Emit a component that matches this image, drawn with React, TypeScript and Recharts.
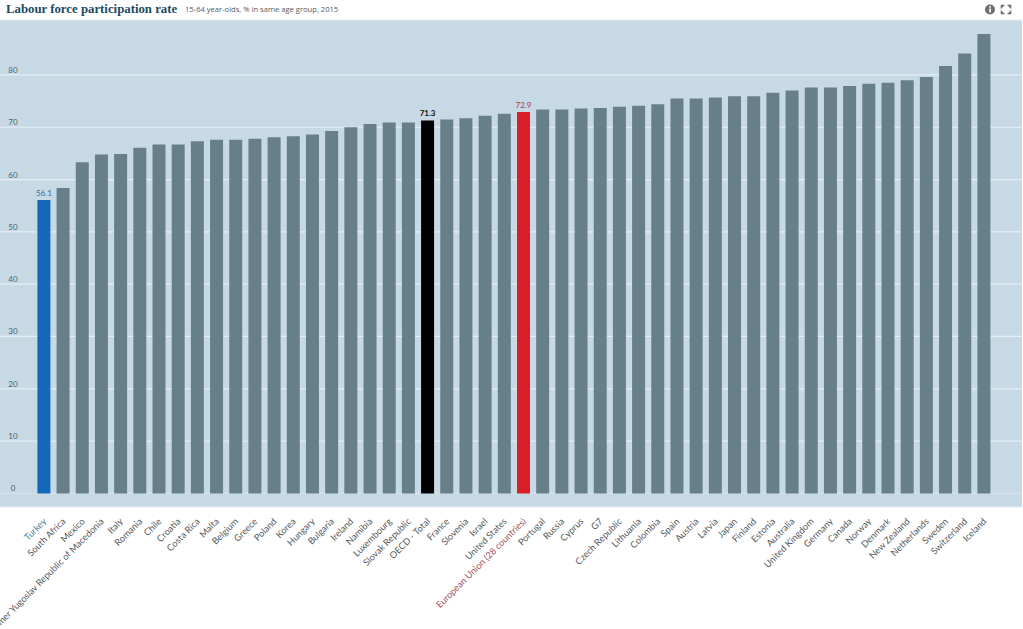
import { BarChart, Bar, XAxis, YAxis, CartesianGrid, Cell, LabelList } from 'recharts';

const countries = [
  'Turkey', 'South Africa', 'Mexico', 'The former Yugoslav Republic of Macedonia', 'Italy', 'Romania', 'Chile',
  'Croatia', 'Costa Rica', 'Malta', 'Belgium', 'Greece', 'Poland', 'Korea', 'Hungary', 'Bulgaria', 'Ireland',
  'Namibia', 'Luxembourg', 'Slovak Republic', 'OECD - Total', 'France', 'Slovenia', 'Israel', 'United States',
  'European Union (28 countries)', 'Portugal', 'Russia', 'Cyprus', 'G7', 'Czech Republic', 'Lithuania', 'Colombia',
  'Spain', 'Austria', 'Latvia', 'Japan', 'Finland', 'Estonia', 'Australia', 'United Kingdom', 'Germany', 'Canada',
  'Norway', 'Denmark', 'New Zealand', 'Netherlands', 'Sweden', 'Switzerland', 'Iceland',
];

const rates = [
  56.1, 58.4, 63.3, 64.8, 64.9, 66.1, 66.7, 66.7, 67.3, 67.6, 67.6, 67.8, 68.1, 68.3, 68.6, 69.3, 70.0,
  70.6, 70.9, 70.9, 71.3, 71.5, 71.7, 72.2, 72.6, 72.9, 73.4, 73.4, 73.6, 73.7, 73.9, 74.1, 74.4,
  75.5, 75.5, 75.7, 75.9, 75.9, 76.6, 77.0, 77.6, 77.6, 77.9, 78.3, 78.5, 79.0, 79.6, 81.7, 84.1, 87.8,
];

const yTicks = [0, 10, 20, 30, 40, 50, 60, 70, 80];

const highlights: Record<string, { bar: string; text: string; tick: string; weight?: string }> = {
  Turkey: { bar: '#1467ba', text: '#2f6f9f', tick: '#4a7fa6' },
  'OECD - Total': { bar: '#000000', text: '#111111', tick: '#55595c', weight: 'bold' },
  'European Union (28 countries)': { bar: '#d81e26', text: '#a83a4a', tick: '#a4505f' },
};

const data = countries.map((name, i) => ({ name, rate: rates[i] }));

const FONT = 'Lato, sans-serif';

function CountryTick({ x, y, payload }: any) {
  const hl = highlights[payload.value];
  return (
    <text
      x={x + 3}
      y={y + 7}
      transform={`rotate(-45 ${x + 3} ${y + 7})`}
      textAnchor="end"
      fontFamily={FONT}
      fontSize={9.2}
      fill={hl ? hl.tick : '#55595c'}
    >
      {payload.value}
    </text>
  );
}

function ValueTick({ y, payload }: any) {
  return (
    <text x={13} y={y - 2} textAnchor="middle" fontFamily={FONT} fontSize={8} fill="#4e5f68">
      {payload.value}
    </text>
  );
}

function HighlightLabel({ x, y, width, index }: any) {
  const hl = highlights[countries[index]];
  if (!hl) return null;
  return (
    <text
      x={x + width / 2}
      y={y - 4}
      textAnchor="middle"
      fontFamily={FONT}
      fontSize={8}
      fontWeight={hl.weight || 'normal'}
      fill={hl.text}
    >
      {rates[index].toFixed(1)}
    </text>
  );
}

// the zero line is much fainter than the others in the original
function GridLine({ x1, y1, x2, y2, index }: any) {
  return <line x1={x1} y1={y1} x2={x2} y2={y2} stroke={index === 0 ? '#d6e3ec' : '#e4eef3'} strokeWidth={1.2} />;
}

export default function App() {
  return (
    <div style={{ position: 'absolute', left: 0, top: 0, width: 1023, height: 629, background: '#fff', overflow: 'hidden' }}>
      <div style={{ position: 'absolute', left: 6, top: -1, fontFamily: '"Liberation Serif", serif', fontWeight: 'bold', fontSize: 12.8, lineHeight: '20px', color: '#1d4a63', whiteSpace: 'nowrap' }}>
        Labour force participation rate
      </div>
      <div style={{ position: 'absolute', left: 185, top: 3, fontFamily: '"Open Sans", sans-serif', fontSize: 7.6, lineHeight: '13px', color: '#55595c', whiteSpace: 'nowrap' }}>
        15-64 year-olds, % in same age group, 2015
      </div>
      <svg style={{ position: 'absolute', left: 984, top: 3 }} width={30} height={13} viewBox="0 0 30 13">
        <circle cx={6} cy={6.5} r={5} fill="#6f6f6f" />
        <rect x={5.2} y={5.5} width={1.7} height={4} fill="#fff" />
        <rect x={5.2} y={3.2} width={1.7} height={1.5} fill="#fff" />
        <path d="M17 2h3.5l-3.5 3.5zM27 2h-3.5l3.5 3.5zM17 11h3.5l-3.5-3.5zM27 11h-3.5l3.5-3.5z" fill="#6f6f6f" stroke="#6f6f6f" strokeWidth={0.6} />
      </svg>
      <BarChart
        width={1023}
        height={629}
        data={data}
        margin={{ top: 20, right: 1, bottom: 0, left: 0 }}
        style={{ position: 'absolute', left: 0, top: 0 }}
      >
        <CartesianGrid horizontal={GridLine} vertical={false} fill="#c8d9e6" />
        <XAxis
          dataKey="name"
          interval={0}
          height={122}
          padding={{ left: 34.4, right: 28.4 }}
          axisLine={false}
          tickLine={false}
          tick={<CountryTick />}
        />
        <YAxis
          type="number"
          domain={[-2.6, 90.5]}
          ticks={yTicks}
          interval={0}
          width={30}
          orientation="left"
          mirror
          axisLine={false}
          tickLine={false}
          tick={<ValueTick />}
          allowDataOverflow
        />
        <Bar dataKey="rate" barSize={13} fill="#667f8a" isAnimationActive={false}>
          {data.map((d) => (
            <Cell key={d.name} fill={highlights[d.name] ? highlights[d.name].bar : '#667f8a'} />
          ))}
          <LabelList dataKey="rate" content={<HighlightLabel />} />
        </Bar>
      </BarChart>
    </div>
  );
}
